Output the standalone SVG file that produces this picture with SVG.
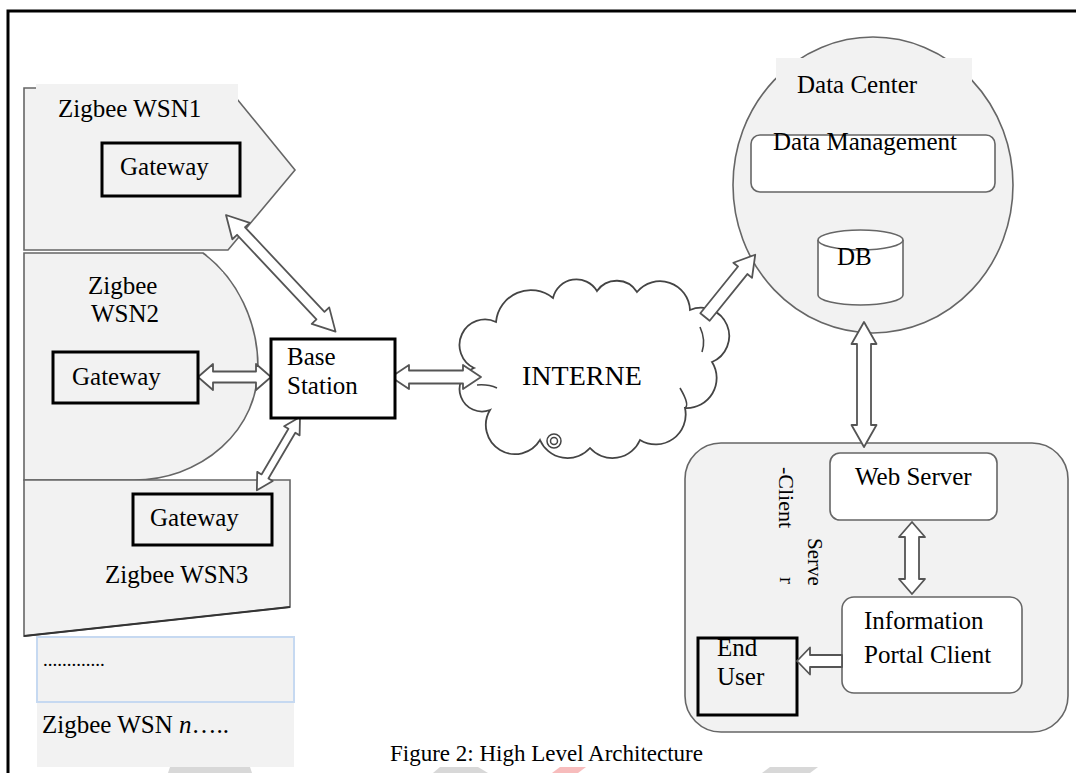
<svg xmlns="http://www.w3.org/2000/svg" width="1076" height="773" viewBox="0 0 1076 773">
<style>
.t{font-family:"Liberation Serif","Times New Roman",serif;font-size:25px;fill:#000}
.shape{fill:#f2f2f2;stroke:#666;stroke-width:1.6}
.lbl{fill:#f2f2f2;stroke:none}
.box{fill:none;stroke:#000;stroke-width:3}
.wbox{fill:#fff;stroke:#000;stroke-width:3}
.rr{fill:#fff;stroke:#666;stroke-width:1.6}
.arr{fill:#fff;stroke:#555;stroke-width:1.8;stroke-linejoin:round}
</style>
<rect width="1076" height="773" fill="#fff"/>
<path d="M8,773 V11 H1076" fill="none" stroke="#000" stroke-width="3"/>
<g id="watermark" opacity="0.7">
<polygon points="170,767 250,767 252,773 168,773" fill="#c8c8c8"/>
<polygon points="440,767 478,767 488,773 433,773" fill="#c8c8c8"/>
<polygon points="560,767 586,767 578,773 552,773" fill="#f5a0a0"/>
<polygon points="770,767 818,767 810,773 762,773" fill="#c8c8c8"/>
</g>
<g id="wsn2">
<path class="shape" d="M24,253 H203 A124 138 0 0 1 258,368 A124 112 0 0 1 134,480 H24 Z"/>
<rect class="lbl" x="72" y="272" width="151" height="60"/>
<text class="t" x="88" y="294">Zigbee</text>
<text class="t" x="91" y="322">WSN2</text>
</g>
<g id="wsn1">
<polygon class="shape" points="24,88 228,88 295,170 228,250 24,250"/>
<rect class="lbl" x="36" y="84" width="202" height="40"/>
<text class="t" x="58" y="117">Zigbee WSN1</text>
</g>
<g id="wsn3">
<path d="M24,636 V480 H290 V607 Z" fill="#f2f2f2" stroke="#666" stroke-width="1.6"/>
<path d="M290,607 L24,636" stroke="#333" stroke-width="2" fill="none"/>
<text class="t" x="105" y="583">Zigbee WSN3</text>
</g>
<g id="wsn-dots">
<rect x="37" y="637" width="257" height="65" fill="#f2f2f2" stroke="#c6d9f1" stroke-width="2"/>
<text class="t" x="43" y="666" style="font-size:19px">.............</text>
</g>
<g id="wsn-n">
<rect x="37" y="703" width="257" height="64" fill="#f2f2f2"/>
<text class="t" x="42" y="733">Zigbee WSN <tspan font-style="italic">n</tspan>…..</text>
</g>
<g id="cloud">
<path d="M490,410 A22 22 0 0 1 474,368 A25 25 0 0 1 496,322 A35 35 0 0 1 553,298 A24 24 0 0 1 597,291 A24 24 0 0 1 637,292 A30 30 0 0 1 690,310 A28 28 0 0 1 712,362 A30 30 0 0 1 685,408 A30 30 0 0 1 640,440 A30 30 0 0 1 590,448 A30 30 0 0 1 540,440 A28 28 0 0 1 490,410 Z" fill="#fff" stroke="#444" stroke-width="1.8"/>
<path d="M477,385 Q488,384 497,388" fill="none" stroke="#444" stroke-width="1.6"/>
<path d="M700,327 Q706,340 702,352" fill="none" stroke="#444" stroke-width="1.6"/>
<path d="M680,388 Q690,405 685,408" fill="none" stroke="#444" stroke-width="1.6"/>
<circle cx="554" cy="441" r="7" fill="#fff" stroke="#444" stroke-width="1.5"/>
<circle cx="554" cy="441" r="3.5" fill="#fff" stroke="#444" stroke-width="1.5"/>
<text class="t" x="522" y="385" style="font-size:28px">INTERNE</text>
</g>
<g id="datacenter">
<ellipse class="shape" cx="873" cy="185" rx="140" ry="148"/>
<rect class="lbl" x="776" y="58" width="196" height="42"/>
<text class="t" x="797" y="93">Data Center</text>
<rect class="rr" x="751" y="135" width="244" height="57" rx="9"/>
<text class="t" x="773" y="150">Data Management</text>
<path class="rr" d="M818,240 V295 A42.5 10 0 0 0 903,295 V240"/>
<ellipse class="rr" cx="860.5" cy="240" rx="42.5" ry="10"/>
<text class="t" x="837" y="265">DB</text>
</g>
<g id="clientserver">
<rect class="shape" x="685" y="443" width="383" height="289" rx="36"/>
<text class="t" style="font-size:22px" transform="translate(779,467) rotate(90)">-Client</text>
<text class="t" style="font-size:21px" transform="translate(808,538) rotate(90)">Serve</text>
<text class="t" style="font-size:21px" transform="translate(780,577) rotate(90)">r</text>
</g>
<g id="webserver">
<rect class="rr" x="830" y="453" width="167" height="67" rx="10"/>
<text class="t" x="855" y="485">Web Server</text>
</g>
<g id="infoportal">
<rect class="rr" x="842" y="597" width="180" height="96" rx="12"/>
<text class="t" x="864" y="629">Information</text>
<text class="t" x="864" y="663">Portal Client</text>
</g>
<g id="enduser">
<rect x="698" y="638" width="99" height="77" fill="#f2f2f2" stroke="#000" stroke-width="3"/>
<text class="t" x="717" y="656">End</text>
<text class="t" x="717" y="685">User</text>
</g>
<g id="connectors">
<polygon class="arr" transform="translate(226,215) rotate(46.8)" points="0,0 22,-12 22,-5.5 138,-5.5 138,-12 160,0 138,12 138,5.5 22,5.5 22,12"/>
<polygon class="arr" points="198,377 213,364 213,371.5 256,371.5 256,364 271,377 256,390 256,382.5 213,382.5 213,390"/>
<polygon class="arr" transform="translate(300,417) rotate(120.5)" points="0,0 16,-9 16,-4 69,-4 69,-9 85,0 69,9 69,4 16,4 16,9"/>
<polygon class="arr" points="391,377 409,365 409,370.5 463,370.5 463,365 481,377 463,389 463,383.5 409,383.5 409,389"/>
<polygon class="arr" transform="translate(705,317) rotate(-51.1)" points="0,-6 60,-6 60,-12 80,0 60,12 60,6 0,6"/>
<polygon class="arr" points="864,322 876.5,344 871,344 871,425 876.5,425 864,447 851.5,425 857,425 857,344 851.5,344"/>
<polygon class="arr" points="912,522 925,537 919,537 919,579 925,579 912,594 899,579 905,579 905,537 899,537"/>
<polygon class="arr" points="797,661 810,647.5 810,655 842,655 842,667 810,667 810,674.5"/>
</g>
<g id="gateway1">
<rect class="box" x="102" y="143" width="138" height="53"/>
<text class="t" x="120" y="175">Gateway</text>
</g>
<g id="gateway2">
<rect class="box" x="53" y="352" width="145" height="51"/>
<text class="t" x="72" y="385">Gateway</text>
</g>
<g id="gateway3">
<rect class="box" x="133" y="494" width="139" height="51"/>
<text class="t" x="150" y="526">Gateway</text>
</g>
<g id="basestation">
<rect class="wbox" x="271" y="339" width="124" height="79"/>
<text class="t" x="287" y="365">Base</text>
<text class="t" x="287" y="394">Station</text>
</g>
<text class="t" x="390" y="761" style="font-size:23px">Figure 2: High Level Architecture</text>
</svg>
